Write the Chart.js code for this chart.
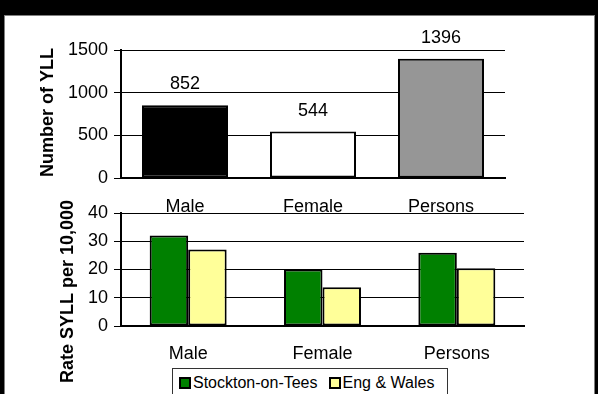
<!DOCTYPE html>
<html>
<head>
<meta charset="utf-8">
<script src="https://cdn.jsdelivr.net/npm/chart.js@4.4.1/dist/chart.umd.min.js"></script>
<style>
  html, body { margin: 0; padding: 0; width: 598px; height: 394px; overflow: hidden; background: #fff;
    font-family: Arial, "Liberation Sans", sans-serif; }
  #band { position: absolute; left: 0; top: 0; width: 598px; height: 15px; background: #000; }
  #frame { position: absolute; left: 0; top: 15px; width: 591px; height: 379px;
    border-left: 4px solid #000; border-right: 3px solid #000; }
  #frame .inner { position: absolute; left: 0; top: 0; right: 0; bottom: 0;
    border: 1px solid #808080; border-bottom: none; }
  canvas { position: absolute; left: 0; }
  #yllChart { top: 0; }
  #rateChart { top: 190px; }
  #legend { position: absolute; left: 172px; top: 368px; width: 268px; height: 28px;
    border: 1px solid #333; display: flex; align-items: center; padding-left: 6px;
    font-size: 16px; color: #000; background: #fff; }
  #legend .item { display: flex; align-items: center; margin-right: 11px; white-space: nowrap; }
  #legend .swatch { width: 8px; height: 8px; border: 2px solid #000; margin-right: 2px; }
</style>
</head>
<body>
<div id="band"></div>
<div id="frame"><div class="inner"></div></div>
<canvas id="yllChart" width="598" height="230"></canvas>
<canvas id="rateChart" width="598" height="204"></canvas>
<div id="legend"></div>
<script>
// Years of life lost, by group
const groups = ['Male', 'Female', 'Persons'];
const yllCounts = [852, 544, 1396];
const yllColours = ['#000000', '#ffffff', '#969696'];
const yllTicks = [0, 500, 1000, 1500];

// Standardised YLL rate per 10,000
const seriesNames = ['Stockton-on-Tees', 'Eng & Wales'];
const seriesColours = ['#008000', '#ffff99'];
const rateStockton = [32.0, 20.0, 25.9];
const rateEngWales = [27.1, 13.7, 20.4];
const rateTicks = [0, 10, 20, 30, 40];

const FONT = 'Arial, "Liberation Sans", sans-serif';
const tickFont = { family: FONT, size: 18 };

// Value printed above each bar
const valueLabels = {
  id: 'valueLabels',
  afterDatasetsDraw(chart, args, opts) {
    const ctx = chart.ctx;
    ctx.save();
    ctx.font = '18px ' + FONT;
    ctx.fillStyle = '#000';
    ctx.textAlign = 'center';
    ctx.textBaseline = 'alphabetic';
    chart.data.datasets.forEach((ds, i) => {
      chart.getDatasetMeta(i).data.forEach((bar, j) => {
        ctx.fillText(String(ds.data[j]), bar.x, bar.y - opts.gap);
      });
    });
    ctx.restore();
  }
};

// Rotated axis title drawn at full width
const sideTitle = {
  id: 'sideTitle',
  afterDraw(chart, args, opts) {
    const ctx = chart.ctx;
    ctx.save();
    ctx.translate(opts.x, opts.y);
    ctx.rotate(-Math.PI / 2);
    ctx.font = 'bold 18px ' + FONT;
    ctx.fillStyle = '#000';
    ctx.textAlign = 'center';
    ctx.textBaseline = 'alphabetic';
    ctx.fillText(opts.text, 0, 0);
    ctx.restore();
  }
};

function yScale(ticks, width) {
  return {
    min: ticks[0],
    max: ticks[ticks.length - 1],
    grid: { color: '#000', lineWidth: 1, tickLength: 7, drawTicks: true },
    border: { display: true, color: '#000', width: 2 },
    ticks: { color: '#000', font: tickFont, padding: 6, callback: v => String(v) },
    afterBuildTicks(s) { s.ticks = ticks.map(v => ({ value: v })); },
    afterFit(s) { s.width = width; }
  };
}

function xScale(height, pad) {
  return {
    grid: { display: false, drawTicks: false },
    border: { display: true, color: '#000', width: 2 },
    ticks: { color: '#000', font: tickFont, padding: pad, maxRotation: 0 },
    afterFit(s) { s.height = height; }
  };
}

new Chart(document.getElementById('yllChart'), {
  type: 'bar',
  data: {
    labels: groups,
    datasets: [{
      data: yllCounts,
      backgroundColor: yllColours,
      borderColor: '#000',
      borderWidth: 2,
      borderSkipped: false,
      categoryPercentage: 1,
      barPercentage: 0.672
    }]
  },
  options: {
    responsive: false,
    animation: false,
    layout: { padding: { left: 0, right: 93, top: 50, bottom: 0 } },
    plugins: {
      legend: { display: false },
      tooltip: { enabled: false },
      valueLabels: { gap: 16 },
      sideTitle: { text: 'Number of YLL', x: 52.5, y: 112.5 }
    },
    scales: { x: xScale(52, 18), y: yScale(yllTicks, 121) }
  },
  plugins: [valueLabels, sideTitle]
});

const rateChart = new Chart(document.getElementById('rateChart'), {
  type: 'bar',
  data: {
    labels: groups,
    datasets: [
      { label: seriesNames[0], data: rateStockton, backgroundColor: seriesColours[0],
        borderColor: '#000', borderWidth: 2, borderSkipped: false,
        categoryPercentage: 0.573, barPercentage: 1 },
      { label: seriesNames[1], data: rateEngWales, backgroundColor: seriesColours[1],
        borderColor: '#000', borderWidth: 2, borderSkipped: false,
        categoryPercentage: 0.573, barPercentage: 1 }
    ]
  },
  options: {
    responsive: false,
    animation: false,
    layout: { padding: { left: 0, right: 74, top: 23, bottom: 0 } },
    plugins: {
      legend: { display: false },
      tooltip: { enabled: false },
      sideTitle: { text: 'Rate SYLL per 10,000', x: 72.7, y: 101.5 }
    },
    scales: { x: xScale(68, 17), y: yScale(rateTicks, 121) }
  },
  plugins: [sideTitle]
});

// Legend box built from the rate chart's datasets
const legendEl = document.getElementById('legend');
rateChart.data.datasets.forEach(ds => {
  const item = document.createElement('span');
  item.className = 'item';
  const sw = document.createElement('span');
  sw.className = 'swatch';
  sw.style.background = ds.backgroundColor;
  item.appendChild(sw);
  item.appendChild(document.createTextNode(ds.label));
  legendEl.appendChild(item);
});
</script>
</body>
</html>
